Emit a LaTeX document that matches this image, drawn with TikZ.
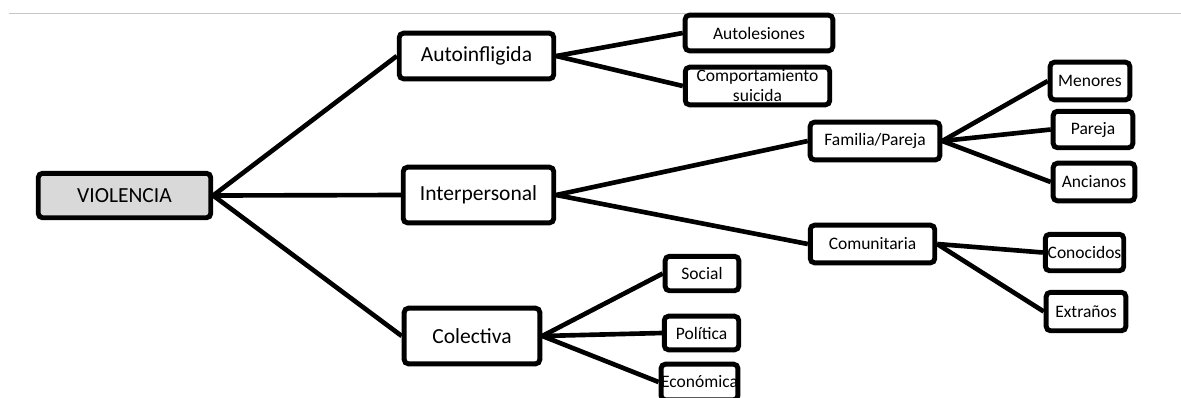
\documentclass[tikz,border=0pt]{standalone}
\usepackage{fontspec}
\setmainfont{Carlito}
\usepackage{tikz}

\begin{document}
\begin{tikzpicture}[x=0.025cm,y=-0.025cm,
    box/.style={draw,line width=3.5pt,rounded corners=3pt,inner sep=0pt,fill=white,align=center},
    big/.style={box,font=\fontsize{15.3}{18}\selectfont},
    small/.style={box,font=\fontsize{12.45}{14.2}\selectfont},
    link/.style={line width=3.3pt}]
            \useasboundingbox (0,0) rectangle (1181,397);
            \draw[gray!45,line width=0.7pt] (9,13) -- (1181,13);
            \node[big,fill=gray!30,minimum width=4.31cm,minimum height=1.11cm] (violencia) at (124.5,195.5) {VIOLENCIA};
            \node[big,minimum width=3.86cm,minimum height=1.14cm] (autoinf) at (476.5,56) {Autoinfligida};
            \node[big,minimum width=3.76cm,minimum height=1.39cm] (interp) at (478.5,195) {Interpersonal};
            \node[big,minimum width=3.39cm,minimum height=1.39cm] (colect) at (472,336) {Colectiva};
            \node[small,minimum width=3.69cm,minimum height=0.89cm] (autoles) at (759,33) {Autolesiones};
            \node[small,minimum width=3.61cm,minimum height=0.94cm] (suicida) at (757.5,86) {Comportamiento\\suicida};
            \node[small,minimum width=3.24cm,minimum height=0.94cm] (familia) at (875,141) {Familia/Pareja};
            \node[small,minimum width=3.11cm,minimum height=0.94cm] (comunit) at (872.5,244) {Comunitaria};
            \node[small,minimum width=1.99cm,minimum height=0.94cm] (menores) at (1090,81) {Menores};
            \node[small,minimum width=1.99cm,minimum height=0.91cm] (pareja) at (1093,129.5) {Pareja};
            \node[small,minimum width=2.04cm,minimum height=0.94cm] (ancianos) at (1094,182) {Ancianos};
            \node[small,minimum width=1.96cm,minimum height=0.91cm] (conocidos) at (1084.5,252.5) {Conocidos};
            \node[small,minimum width=1.99cm,minimum height=0.96cm] (extranos) at (1086,311.5) {Extraños};
            \node[small,minimum width=1.84cm,minimum height=0.86cm] (social) at (702,273.5) {Social};
            \node[small,minimum width=1.86cm,minimum height=0.84cm] (politica) at (701.5,333) {Política};
            \node[small,minimum width=1.91cm,minimum height=0.89cm] (economica) at (699.5,382) {Económica};
            \draw[link] (violencia.east) -- (autoinf.west);
            \draw[link] (violencia.east) -- (interp.west);
            \draw[link] (violencia.east) -- (colect.west);
            \draw[link] (autoinf.east) -- (autoles.west);
            \draw[link] (autoinf.east) -- (suicida.west);
            \draw[link] (interp.east) -- (familia.west);
            \draw[link] (interp.east) -- (comunit.west);
            \draw[link] (familia.east) -- (menores.west);
            \draw[link] (familia.east) -- (pareja.west);
            \draw[link] (familia.east) -- (ancianos.west);
            \draw[link] (comunit.east) -- (conocidos.west);
            \draw[link] (comunit.east) -- (extranos.west);
            \draw[link] (colect.east) -- (social.west);
            \draw[link] (colect.east) -- (politica.west);
            \draw[link] (colect.east) -- (economica.west);
        \end{tikzpicture}
\end{document}
